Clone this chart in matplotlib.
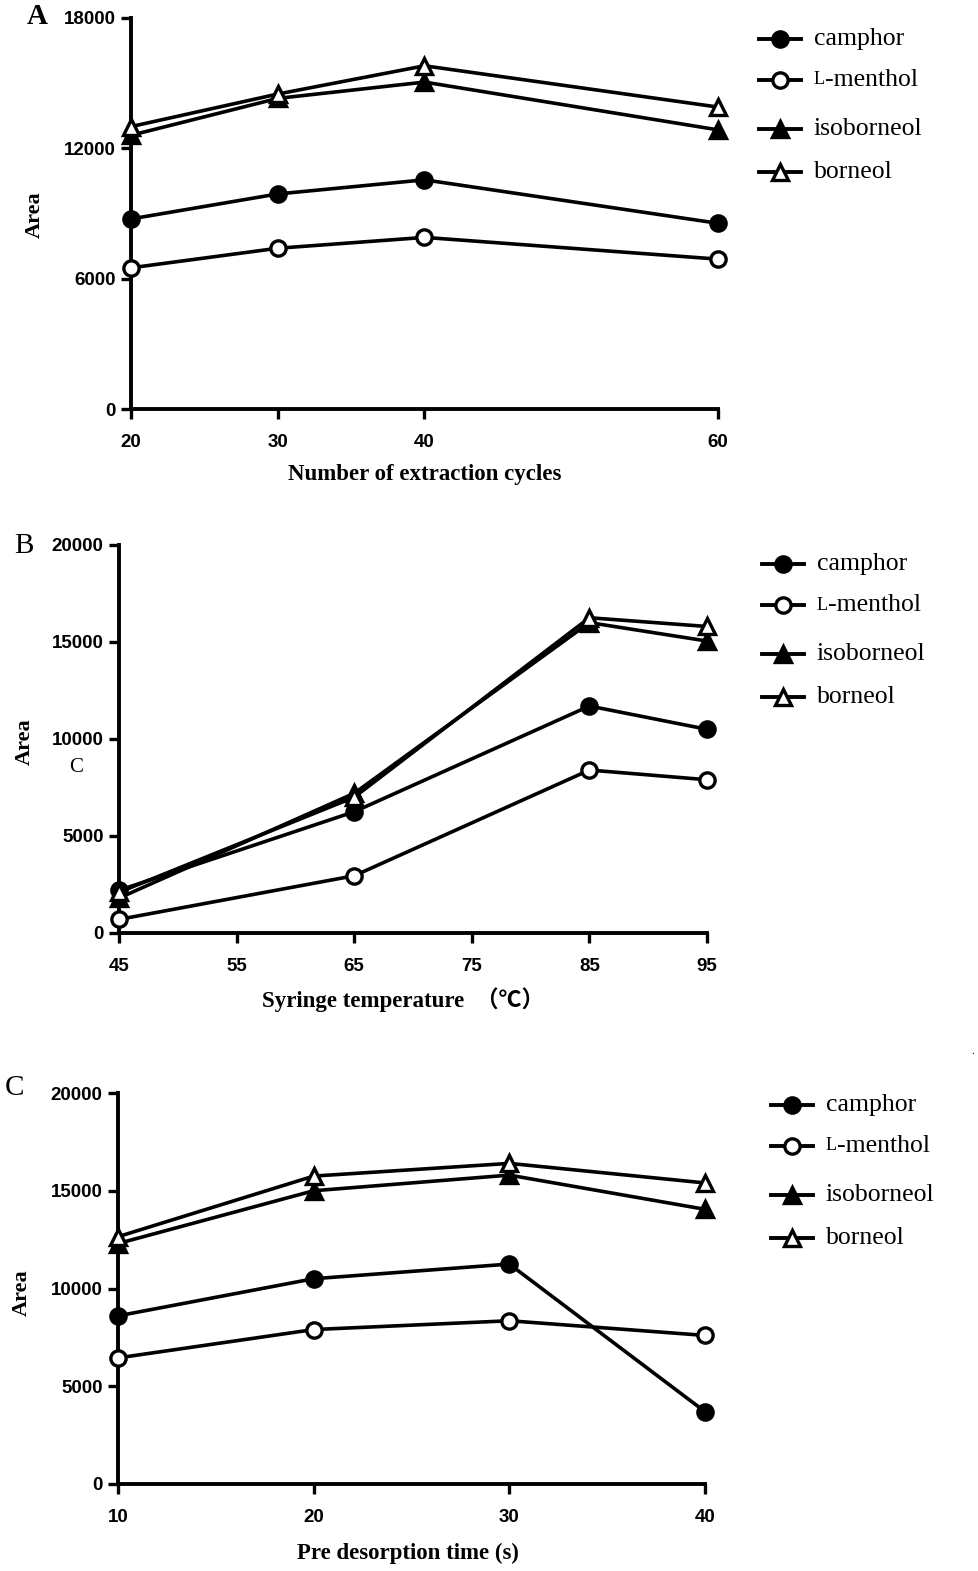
import matplotlib
matplotlib.use("Agg")
import matplotlib.pyplot as plt
from matplotlib.lines import Line2D

compounds = ["camphor", "L-menthol", "isoborneol", "borneol"]

# Panel A: number of extraction cycles
cycles = [20, 30, 40, 60]
a_camphor = [8750, 9900, 10550, 8550]
a_menthol = [6500, 7400, 7900, 6900]
a_isoborneol = [12600, 14300, 15050, 12850]
a_borneol = [13000, 14500, 15800, 13900]

# Panel B: syringe temperature
temps = [45, 65, 85, 95]
b_camphor = [2200, 6250, 11700, 10500]
b_menthol = [700, 2950, 8400, 7900]
b_isoborneol = [1800, 7200, 16000, 15050]
b_borneol = [2100, 7000, 16250, 15800]

# Panel C: pre desorption time
times = [10, 20, 30, 40]
c_camphor = [8600, 10500, 11250, 3700]
c_menthol = [6450, 7900, 8350, 7600]
c_isoborneol = [12300, 15000, 15800, 14050]
c_borneol = [12650, 15750, 16400, 15400]

a_yticks = [0, 6000, 12000, 18000]
a_xticks = [20, 30, 40, 60]
b_yticks = [0, 5000, 10000, 15000, 20000]
b_xticks = [45, 55, 65, 75, 85, 95]
c_yticks = [0, 5000, 10000, 15000, 20000]
c_xticks = [10, 20, 30, 40]

W, H = 979, 1571
fig = plt.figure(figsize=(W / 100, H / 100), dpi=100)

narrow = ["Liberation Sans Narrow", "Liberation Sans", "DejaVu Sans"]
serif = ["Liberation Serif", "DejaVu Serif"]
serif_cjk = ["Liberation Serif", "Noto Sans CJK SC", "DejaVu Sans"]

styles = [
    dict(marker="o", mfc="black"),
    dict(marker="o", mfc="white"),
    dict(marker="^", mfc="black"),
    dict(marker="^", mfc="white"),
]

def rect(l, r, t, b):
    return [l / W, 1 - b / H, (r - l) / W, (b - t) / H]

def panel(box, x, series, xticks, yticks, xlim, ylim, legend_xy, rowsp):
    ax = fig.add_axes(rect(*box))
    for ys, st in zip(series, styles):
        ax.plot(x, ys, color="black", lw=2.6, marker=st["marker"], ms=11,
                mfc=st["mfc"], mec="black", mew=2.4, clip_on=False, zorder=3)
    ax.set_xlim(*xlim)
    ax.set_ylim(*ylim)
    ax.set_xticks(xticks)
    ax.set_yticks(yticks)
    for s in ["top", "right"]:
        ax.spines[s].set_visible(False)
    for s in ["left", "bottom"]:
        ax.spines[s].set_linewidth(2.8)
    ax.tick_params(direction="out", length=7, width=2.4, pad=4)
    for lab in ax.get_xticklabels() + ax.get_yticklabels():
        lab.set_fontfamily(narrow)
        lab.set_fontweight("bold")
        lab.set_fontsize(13.5)
    ax.tick_params(axis="x", pad=11)
    # legend drawn row by row
    lx, ly = legend_xy
    for i, (name, st) in enumerate(zip(compounds, styles)):
        yy = ly + rowsp[i]
        fig.add_artist(Line2D([(lx - 21) / W, (lx + 21) / W], [1 - yy / H, 1 - yy / H],
                              color="black", lw=2.8, transform=fig.transFigure))
        fig.add_artist(Line2D([lx / W], [1 - yy / H], marker=st["marker"], ms=11,
                              mfc=st["mfc"], mec="black", mew=2.4, color="black",
                              transform=fig.transFigure))
        if name == "L-menthol":
            fig.text((lx + 34) / W, 1 - yy / H, "L", fontsize=13, family=serif,
                     va="center", ha="left")
            fig.text((lx + 45) / W, 1 - yy / H, "-menthol", fontsize=18.5, family=serif,
                     va="center", ha="left")
        else:
            fig.text((lx + 34) / W, 1 - yy / H, name, fontsize=18.5, family=serif,
                     va="center", ha="left")
    return ax

rows = [0, 41, 90, 133]
panel((131, 718, 18, 409), cycles, [a_camphor, a_menthol, a_isoborneol, a_borneol],
      a_xticks, a_yticks, (20, 60), (0, 18000), (780, 39), rows)
panel((119, 707, 545, 933), temps, [b_camphor, b_menthol, b_isoborneol, b_borneol],
      b_xticks, b_yticks, (45, 95), (0, 20000), (783, 564), rows)
panel((118, 705, 1093, 1484), times, [c_camphor, c_menthol, c_isoborneol, c_borneol],
      c_xticks, c_yticks, (10, 40), (0, 20000), (792, 1105), rows)

def ftext(x, y, s, **kw):
    fig.text(x / W, 1 - y / H, s, **kw)

# panel letters
ftext(37, 17, "A", fontsize=21, family=serif, fontweight="bold", ha="center", va="center")
ftext(24, 546, "B", fontsize=21, family=serif, ha="center", va="center")
ftext(15, 1088, "C", fontsize=21, family=serif, ha="center", va="center")

# y labels
ftext(35, 215, "Area", fontsize=16, family=serif, fontweight="bold", rotation=90,
      ha="center", va="center")
ftext(25, 742, "Area", fontsize=16, family=serif, fontweight="bold", rotation=90,
      ha="center", va="center")
ftext(76, 767, "C", fontsize=15, family=serif, ha="center", va="center")
ftext(22, 1293, "Area", fontsize=16, family=serif, fontweight="bold", rotation=90,
      ha="center", va="center")

# x labels
ftext(425, 474, "Number of extraction cycles", fontsize=16.5, family=serif,
      fontweight="bold", ha="center", va="center")
ftext(403, 1000, "Syringe temperature  （℃）", fontsize=16.5, family=serif_cjk,
      fontweight="bold", ha="center", va="center")
ftext(408, 1553, "Pre desorption time (s)", fontsize=16.5, family=serif,
      fontweight="bold", ha="center", va="center")

ftext(973, 1052, ".", fontsize=8, family=serif, ha="center", va="center")

fig.savefig("out.png", dpi=100)
